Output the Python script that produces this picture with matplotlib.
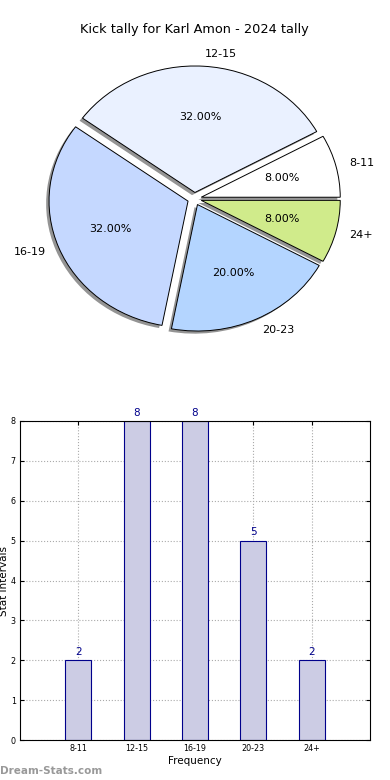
import matplotlib
matplotlib.use("Agg")
import matplotlib.pyplot as plt

categories = ["8-11", "12-15", "16-19", "20-23", "24+"]
counts = [2, 8, 8, 5, 2]
pie_colors = ["#ffffff", "#eaf1ff", "#c5d8ff", "#b4d5ff", "#d0eb8b"]
title = "Kick tally for Karl Amon - 2024 tally"

W, H = 390, 780
fig = plt.figure(figsize=(W / 100, H / 100), dpi=100)

# ---- pie ----
cx, cy, rx, ry = 194.5, 198.8, 139.0, 126.5
axp = fig.add_axes([(cx - 1.25 * rx) / W, 1 - (cy + 1.25 * ry) / H,
                    2.5 * rx / W, 2.5 * ry / H])
wedges, texts, autotexts = axp.pie(
    counts, labels=categories, colors=pie_colors, explode=[0.05] * len(counts),
    autopct="%1.2f%%", startangle=0,
    shadow=dict(ox=-0.015, oy=-0.015, facecolor="#707070", edgecolor="none",
                alpha=0.75),
    pctdistance=0.6, labeldistance=1.1,
    wedgeprops=dict(edgecolor="black", linewidth=0.7),
    textprops=dict(fontsize=8))
axp.set_aspect("auto")
axp.set_xlim(-1.25, 1.25)
axp.set_ylim(-1.25, 1.25)
fig.text(cx / W, 1 - 30 / H, title, ha="center", va="center", fontsize=9.3)

# ---- bar ----
axb = fig.add_axes([20 / W, 40 / H, 350 / W, 319 / H])
x = list(range(len(categories)))
axb.bar(x, counts, width=0.45, color="#cccce4", edgecolor="#00008b",
        linewidth=0.8, zorder=2)
for xi, v in zip(x, counts):
    axb.text(xi, v + 0.08, str(v), ha="center", va="bottom", fontsize=7.5,
             color="#00008b")
axb.set_xlim(-1, 5)
axb.set_ylim(0, 8)
axb.set_xticks(x)
axb.set_xticklabels(categories)
axb.set_yticks(range(0, 9))
axb.tick_params(labelsize=5.8, direction="in", top=True, right=True,
                length=3, pad=3)
axb.grid(True, linestyle=":", color="#aaaaaa", linewidth=0.8, zorder=0)
axb.set_axisbelow(True)
axb.set_xlabel("Frequency", fontsize=7.5, labelpad=2)
axb.set_ylabel("Stat Intervals", fontsize=7.5, labelpad=1)
axb.yaxis.set_label_coords(-11 / 350, 0.5)
for s in axb.spines.values():
    s.set_linewidth(0.8)

fig.text(0.0, 1 - 771 / H, "Dream-Stats.com", fontsize=7.5, color="#999999",
         ha="left", va="center", fontweight="bold")

fig.savefig("out.png", dpi=100)
